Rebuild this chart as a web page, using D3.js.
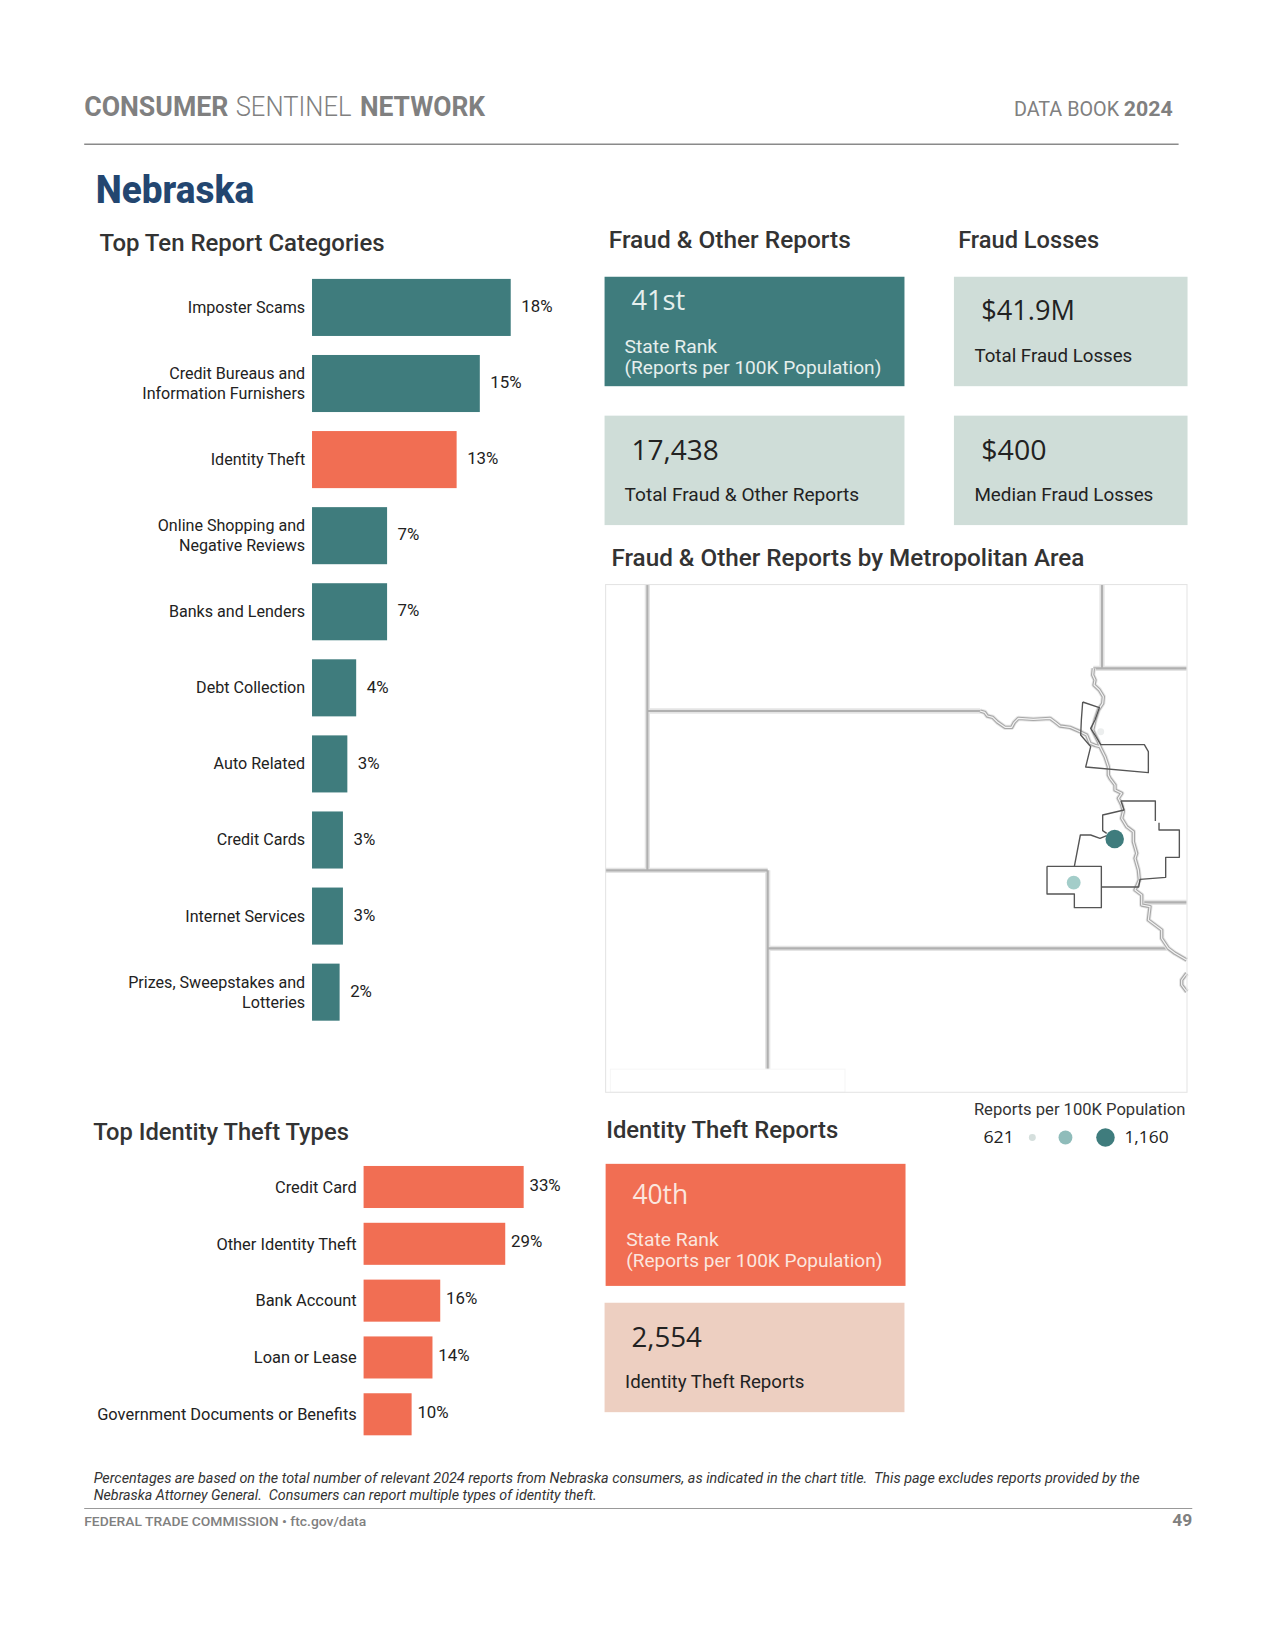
<!DOCTYPE html>
<html>
<head>
<meta charset="utf-8">
<script src="https://cdn.jsdelivr.net/npm/d3@7"></script>
<style>html,body{margin:0;padding:0;background:#fff}svg{display:block}text{white-space:pre}</style>
</head>
<body>
<svg id="page"></svg>
<script>
// ---------- data ----------
const topCategories = [["Imposter Scams"],["Credit Bureaus and","Information Furnishers"],["Identity Theft"],["Online Shopping and","Negative Reviews"],["Banks and Lenders"],["Debt Collection"],["Auto Related"],["Credit Cards"],["Internet Services"],["Prizes, Sweepstakes and","Lotteries"]];
const topValues = [18.0,15.2,13.1,6.8,6.8,4.0,3.2,2.8,2.8,2.5];
const topLabels = ["18%","15%","13%","7%","7%","4%","3%","3%","3%","2%"];
const highlightCategory = "Identity Theft";
const idCategories = ["Credit Card","Other Identity Theft","Bank Account","Loan or Lease","Government Documents or Benefits"];
const idValues = [33.0,29.2,15.8,14.2,9.9];
const idLabels = ["33%","29%","16%","14%","10%"];
const legendValues = [621,890,1160];
const legendLabels = ["621","1,160"];
const metroNames = ["Sioux City","Omaha","Lincoln"];
const metroValues = [621,1160,890];
const metroPoints = [[362,275],[404,597],[281,728]];
// map geometry, in map survey units
const stateLines = [
 [[-998,-168],[-998,691]],
 [[-998,213],[0,213]],
 [[-1125,691],[-637,691]],
 [[-637,691],[-637,1290]],
 [[-637,925],[565,925]],
 [[366,-168],[366,85]],
 [[340,85],[620,85]],
 [[490,787],[620,787]]
];
const riverLines = [
 [[0,213],[14,217],[22,228],[38,232],[52,246],[75,262],[95,262],[103,247],[115,235],[160,238],[210,235],[225,246],[240,258],[270,262],[300,275],[320,285],[330,310],[345,316],[360,320],[375,350],[385,380],[385,405],[390,415],[405,435],[405,450],[425,460],[415,475],[425,495],[430,515],[425,535],[440,560],[460,575],[460,605],[470,640],[465,655],[475,690],[478,720],[465,750],[485,765],[485,795],[510,800],[505,840],[525,855],[545,870],[545,895],[565,925],[585,940],[620,960]],
 [[340,85],[338,105],[345,120],[342,135],[358,150],[370,170],[368,190],[355,210],[345,240],[338,270],[345,285],[355,305],[360,320]],
 [[620,1000],[605,1020],[605,1035],[620,1055]]
];
const metroOutlines = [
 [[308,186],[358,203],[345,240],[332,265],[345,285],[362,314],[493,314],[505,335],[505,398],[317,381],[332,320],[302,285],[304,240],[308,186]],
 [[423,483],[526,483],[526,543]],
 [[537,548],[537,570],[598,570],[598,652],[557,652],[557,712],[480,718],[476,741],[364,741]],
 [[423,483],[432,510],[368,525],[368,572],[380,580]],
 [[380,587],[360,595],[332,585],[301,585],[283,679]],
 [[201,679],[364,679],[364,803],[283,803],[283,762],[201,762],[201,679]]
];

// ---------- page ----------
const W = 1211.6, H = 1568;
const svg = d3.select("#page").attr("width",1275).attr("height",1650).attr("viewBox",`0 0 ${W} ${H}`);
const TEAL="#3f7c7d", CORAL="#f16e53", SAGE="#cfddd8", PEACH="#edcfc1", INK="#222", HEAD="#333", GREY="#808080";
const SANS="Roboto, 'Liberation Sans', sans-serif", NUM="'Open Sans', 'DejaVu Sans', sans-serif";

function put(str,x,y,o={}){
  const t=svg.append("text").attr("x",x).attr("y",y).text(str)
    .attr("font-family",o.family||SANS).attr("font-size",o.size||16)
    .attr("font-weight",o.weight||400).attr("fill",o.fill||INK)
    .attr("text-anchor",o.anchor||"start");
  if(o.italic) t.attr("font-style","italic");
  if(o.width) t.attr("textLength",o.width).attr("lengthAdjust","spacingAndGlyphs");
  return t;
}

// header
put("CONSUMER",80,110.5,{size:26,weight:700,fill:GREY,width:137});
put("SENTINEL",224,110.5,{size:26,weight:300,fill:GREY,width:110});
put("NETWORK",342,110.5,{size:26,weight:700,fill:GREY,width:119});
put("DATA BOOK",963.5,110,{size:19,fill:GREY,width:100});
put("2024",1068,110,{size:20,weight:700,fill:GREY,width:46.5});
svg.append("line").attr("x1",80).attr("x2",1120).attr("y1",137).attr("y2",137).attr("stroke","#8a8a8a").attr("stroke-width",1.5);
put("Nebraska",91,193,{size:36,weight:800,fill:"#234670",width:150.5});

// section titles
[["Top Ten Report Categories",94.5,239,271],["Fraud & Other Reports",578.5,236,230],["Fraud Losses",910.5,236,134],
 ["Fraud & Other Reports by Metropolitan Area",581,538,449.5],["Top Identity Theft Types",88.5,1083,243],["Identity Theft Reports",576,1081,220.5]]
 .forEach(([s,x,y,w])=>put(s,x,y,{size:23,weight:500,fill:HEAD,width:w}));

// bar charts
function bars(cats,vals,labels,o){
  const y=d3.scaleBand().domain(d3.range(cats.length)).range(o.yRange).paddingInner(o.pad).paddingOuter(o.pad/2);
  const x=d3.scaleLinear().domain([0,10]).range([o.x0,o.x0+o.per10]);
  const g=svg.append("g");
  g.selectAll("rect").data(vals).join("rect")
    .attr("x",x(0)).attr("y",(d,i)=>y(i)).attr("width",d=>x(d)-x(0)).attr("height",y.bandwidth())
    .attr("fill",(d,i)=>o.color(cats[i]));
  cats.forEach((c,i)=>{
    const lines=[].concat(c), cy=y(i)+y.bandwidth()/2;
    lines.forEach((ln,k)=>put(ln,o.x0-6.5,cy+o.catDy+(k-(lines.length-1)/2)*19,{size:o.catSize,anchor:"end"}));
    put(labels[i],x(vals[i])+o.gap,cy+o.dy,{size:16});
  });
}
bars(topCategories,topValues,topLabels,{yRange:[256,979],pad:.25,x0:296.5,per10:104.9,gap:10,dy:4.5,catDy:5.2,catSize:15.3,
  color:c=>[].concat(c)[0]===highlightCategory?CORAL:TEAL});
bars(idCategories,idValues,idLabels,{yRange:[1101,1371],pad:.26,x0:345.5,per10:46.1,gap:5.5,dy:3.5,catDy:5.5,catSize:15.6,color:()=>CORAL});

// stat boxes
function box(x0,x1,y0,y1,fill,big,bigW,bx,by,lines,lx,ly,col){
  svg.append("rect").attr("x",x0).attr("y",y0).attr("width",x1-x0).attr("height",y1-y0).attr("fill",fill);
  put(big,bx,by,{size:26,family:NUM,weight:400,fill:col,width:bigW});
  lines.forEach(([s,w],i)=>put(s,lx,ly+i*20,{size:18,fill:col,width:w}));
}
const PALE="#e6efed", PALE2="#fbe6df";
box(574.5,859.5,263,367,TEAL,"41st",51,600,294.5,[["State Rank",88],["(Reports per 100K Population)",244]],593.5,335,PALE);
box(906.5,1128.5,263,367,SAGE,"$41.9M",89,932.5,304,[["Total Fraud Losses",150]],926,344,INK);
box(574.5,859.5,395,499,SAGE,"17,438",83,600,437,[["Total Fraud & Other Reports",223]],593.5,476,INK);
box(906.5,1128.5,395,499,SAGE,"$400",62,932.5,437,[["Median Fraud Losses",170]],926,476,INK);
box(575.5,860.5,1106,1222,CORAL,"40th",53,601,1144,[["State Rank",88],["(Reports per 100K Population)",243.5]],595,1184,PALE2);
box(574.5,859.5,1238,1342,PEACH,"2,554",67,600,1280,[["Identity Theft Reports",170.5]],594,1319,INK);

// map
const mapX=d3.scaleLinear().domain([0,620]).range([931.3,931.3+620/3.157]);
const mapY=d3.scaleLinear().domain([0,990]).range([608.2,608.2+990/3.157]);
const mapLine=d3.line().x(d=>mapX(d[0])).y(d=>mapY(d[1]));
const map=svg.append("g");
const stroke=(cls,data,col,w)=>map.selectAll("path."+cls).data(data).join("path").attr("class",cls).attr("d",mapLine)
  .attr("fill","none").attr("stroke",col).attr("stroke-width",w).attr("stroke-linejoin","round");
stroke("s0",stateLines,"#e4e4e4",5);
stroke("s1",stateLines,"#b0b0b0",2);
stroke("r2",riverLines,"#e6e6e6",5);
stroke("r0",riverLines,"#a8a8a8",3.2);
stroke("r1",riverLines,"#f3f3f3",1.1);
stroke("m",metroOutlines,"#555",1.3);
svg.append("rect").attr("x",580).attr("y",1016).attr("width",223).attr("height",22).attr("fill","#fff").attr("stroke","#f6f6f6");
svg.append("rect").attr("x",575.5).attr("y",555.5).attr("width",552.5).attr("height",482.5).attr("fill","none").attr("stroke","#e4e4e4");
const rScale=d3.scaleLinear().domain(legendValues).range([3.3,6.6,8.8]);
const cScale=d3.scaleLinear().domain(legendValues).range(["#d5dfdd","#8fbcba",TEAL]);
map.selectAll("circle").data(metroValues).join("circle")
  .attr("cx",(d,i)=>mapX(metroPoints[i][0])).attr("cy",(d,i)=>mapY(metroPoints[i][1]))
  .attr("r",d=>rScale(d)).attr("fill",(d,i)=>i===0?"#eceeee":i===2?"#a3cdc9":cScale(d))
  .append("title").text((d,i)=>metroNames[i]);

// legend
put("Reports per 100K Population",925.5,1060,{size:16,width:201,fill:"#333"});
put(legendLabels[0],934.5,1086,{size:16,family:NUM,width:29});
put(legendLabels[1],1068.5,1086,{size:16,family:NUM,width:42});
const legendX=d3.scalePoint().domain(legendValues).range([981,1050.5]);
svg.append("g").selectAll("circle").data(legendValues).join("circle")
  .attr("cx",d=>d===legendValues[1]?1012.5:legendX(d)).attr("cy",1081).attr("r",d=>rScale(d)).attr("fill",d=>cScale(d));

// footer
put("Percentages are based on the total number of relevant 2024 reports from Nebraska consumers, as indicated in the chart title.  This page excludes reports provided by the",89,1409,{size:13,italic:true,width:994,fill:"#333"});
put("Nebraska Attorney General.  Consumers can report multiple types of identity theft.",89,1425,{size:13,italic:true,width:478,fill:"#333"});
svg.append("line").attr("x1",80).attr("x2",1133).attr("y1",1433.5).attr("y2",1433.5).attr("stroke","#999").attr("stroke-width",1);
put("FEDERAL TRADE COMMISSION • ftc.gov/data",80,1450,{size:13,weight:500,fill:GREY,width:268});
put("49",1114,1450.5,{size:16,weight:700,fill:GREY,width:19});
</script>
</body>
</html>
